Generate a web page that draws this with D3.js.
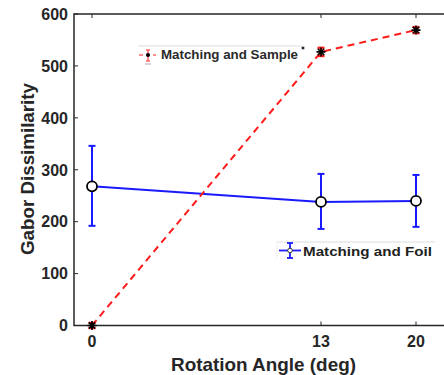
<!DOCTYPE html>
<html><head><meta charset="utf-8">
<script src="https://cdn.jsdelivr.net/npm/d3@7/dist/d3.min.js"></script>
<style>body{margin:0;background:#fff}svg{display:block}text{font-family:"Liberation Sans",Arial,sans-serif;font-weight:bold}</style>
</head><body>
<script>
const angles = [0, 13, 20];
const tickLabels = ["0", "13", "20"];
const sampleMean = [0, 527, 569];
const sampleErr = [5, 8, 6];
const foilMean = [268, 238, 240];
const foilLow = [192, 186, 190];
const foilHigh = [346, 292, 290];
const yTicks = [0, 100, 200, 300, 400, 500, 600];

(function () {
const W = 444, H = 375;
const svg = d3.select("body").append("svg").attr("width", W).attr("height", H);
const axisCol = "#262626";
const pL = 74, pT = 14, pB = 325.5, pR = 446;

const x = d3.scaleLinear().domain([0, 13, 20]).range([92, 321, 416]);
const y = d3.scaleLinear().domain([0, 600]).range([pB, pT]);

// box
svg.append("path").attr("d", `M${pR},${pT}H${pL}V${pB}H${pR}`)
  .attr("fill", "none").attr("stroke", axisCol).attr("stroke-width", 1.5);

// y ticks
yTicks.forEach(t => {
  svg.append("line").attr("x1", pL).attr("x2", pL + 4).attr("y1", y(t)).attr("y2", y(t)).attr("stroke", axisCol);
  svg.append("text").attr("x", pL - 6).attr("y", y(t) + 5.8).attr("text-anchor", "end")
    .attr("font-size", 16).attr("fill", axisCol).text(t);
});
// x ticks
angles.forEach((a, i) => {
  svg.append("line").attr("x1", x(a)).attr("x2", x(a)).attr("y1", pB).attr("y2", pB - 4).attr("stroke", axisCol);
  svg.append("line").attr("x1", x(a)).attr("x2", x(a)).attr("y1", pT).attr("y2", pT + 4).attr("stroke", axisCol);
  svg.append("text").attr("x", x(a)).attr("y", pB + 21.5).attr("text-anchor", "middle")
    .attr("font-size", 16).attr("fill", axisCol).text(tickLabels[i]);
});

svg.append("text").attr("transform", `translate(34,169) rotate(-90)`)
  .attr("text-anchor", "middle").attr("font-size", 18.5).attr("fill", axisCol)
  .attr("textLength", 172).attr("lengthAdjust", "spacingAndGlyphs").text("Gabor Dissimilarity");
svg.append("text").attr("x", 263.5).attr("y", 371).attr("text-anchor", "middle")
  .attr("font-size", 18.5).attr("fill", axisCol)
  .attr("textLength", 185).attr("lengthAdjust", "spacingAndGlyphs").text("Rotation Angle (deg)");

const line = d3.line().x(d => x(d[0])).y(d => y(d[1]));

// Foil series
const foil = angles.map((a, i) => [a, foilMean[i]]);
svg.append("path").attr("d", line(foil)).attr("fill", "none").attr("stroke", "#1a1aff").attr("stroke-width", 2);
angles.forEach((a, i) => {
  const g = svg.append("g").attr("stroke", "#1a1aff").attr("stroke-width", 2);
  g.append("line").attr("x1", x(a)).attr("x2", x(a)).attr("y1", y(foilLow[i])).attr("y2", y(foilHigh[i]));
  g.append("line").attr("x1", x(a) - 3.5).attr("x2", x(a) + 3.5).attr("y1", y(foilLow[i])).attr("y2", y(foilLow[i]));
  g.append("line").attr("x1", x(a) - 3.5).attr("x2", x(a) + 3.5).attr("y1", y(foilHigh[i])).attr("y2", y(foilHigh[i]));
  svg.append("circle").attr("cx", x(a)).attr("cy", y(foilMean[i])).attr("r", 5)
    .attr("fill", "#fff").attr("stroke", "#000").attr("stroke-width", 1.8);
});

// Sample series
const samp = angles.map((a, i) => [a, sampleMean[i]]);
svg.append("path").attr("d", line(samp)).attr("fill", "none").attr("stroke", "#ff1a1a")
  .attr("stroke-width", 2).attr("stroke-dasharray", "7,5");
function asterisk(g, cx, cy, r, col, sw) {
  const p = [];
  for (let k = 0; k < 4; k++) {
    const ang = k * Math.PI / 4;
    p.push(`M${cx - r * Math.cos(ang)},${cy - r * Math.sin(ang)}L${cx + r * Math.cos(ang)},${cy + r * Math.sin(ang)}`);
  }
  g.append("path").attr("d", p.join("")).attr("stroke", col).attr("stroke-width", sw);
}
angles.forEach((a, i) => {
  const g = svg.append("g").attr("stroke", "#ff1a1a").attr("stroke-width", 2.2);
  const lo = y(sampleMean[i] - sampleErr[i]), hi = y(sampleMean[i] + sampleErr[i]);
  g.append("line").attr("x1", x(a)).attr("x2", x(a)).attr("y1", lo).attr("y2", hi);
  g.append("line").attr("x1", x(a) - 3.5).attr("x2", x(a) + 3.5).attr("y1", lo).attr("y2", lo);
  g.append("line").attr("x1", x(a) - 3.5).attr("x2", x(a) + 3.5).attr("y1", hi).attr("y2", hi);
  asterisk(svg, x(a), y(sampleMean[i]), 4.5, "#000", 1.6);
});

// Legend: Matching and Sample
const l1 = svg.append("g");
l1.append("line").attr("x1", 138).attr("x2", 302).attr("y1", 46).attr("y2", 46).attr("stroke", "#ddd");
l1.append("line").attr("x1", 139).attr("x2", 156).attr("y1", 55).attr("y2", 55).attr("stroke", "#ff6666").attr("stroke-width", 1.5).attr("stroke-dasharray", "4,3");
l1.append("line").attr("x1", 148).attr("x2", 148).attr("y1", 50).attr("y2", 61).attr("stroke", "#ff6666").attr("stroke-width", 1.5);
l1.append("line").attr("x1", 146).attr("x2", 150).attr("y1", 50).attr("y2", 50).attr("stroke", "#ff6666").attr("stroke-width", 1.5);
l1.append("line").attr("x1", 146).attr("x2", 150).attr("y1", 61).attr("y2", 61).attr("stroke", "#ff6666").attr("stroke-width", 1.5);
l1.append("circle").attr("cx", 148).attr("cy", 55).attr("r", 2).attr("fill", "#000");
l1.append("line").attr("x1", 145).attr("x2", 151).attr("y1", 64).attr("y2", 64).attr("stroke", "#aab").attr("stroke-width", 1);
l1.append("text").attr("x", 161).attr("y", 59).attr("font-size", 12).attr("fill", "#2a2a2a")
  .attr("textLength", 137).attr("lengthAdjust", "spacingAndGlyphs").text("Matching and Sample");
asterisk(l1, 303, 48, 1.6, "#223", 1);

// Legend: Matching and Foil
const l2 = svg.append("g");
l2.append("line").attr("x1", 277).attr("x2", 435).attr("y1", 242).attr("y2", 242).attr("stroke", "#ddd");
l2.append("line").attr("x1", 277).attr("x2", 277).attr("y1", 242).attr("y2", 258).attr("stroke", "#eee");
l2.append("line").attr("x1", 279).attr("x2", 301).attr("y1", 250.5).attr("y2", 250.5).attr("stroke", "#1a1aff").attr("stroke-width", 1.8);
l2.append("line").attr("x1", 290).attr("x2", 290).attr("y1", 243).attr("y2", 258).attr("stroke", "#1a1aff").attr("stroke-width", 1.8);
l2.append("line").attr("x1", 287).attr("x2", 293).attr("y1", 243).attr("y2", 243).attr("stroke", "#1a1aff").attr("stroke-width", 1.8);
l2.append("line").attr("x1", 287).attr("x2", 293).attr("y1", 258).attr("y2", 258).attr("stroke", "#1a1aff").attr("stroke-width", 1.8);
l2.append("circle").attr("cx", 290).attr("cy", 250.5).attr("r", 2.3).attr("fill", "#fff").attr("stroke", "#333").attr("stroke-width", 1);
l2.append("text").attr("x", 303).attr("y", 255.7).attr("font-size", 13.5).attr("fill", "#222")
  .attr("textLength", 129).attr("lengthAdjust", "spacingAndGlyphs").text("Matching and Foil");
})();
</script>
</body></html>
